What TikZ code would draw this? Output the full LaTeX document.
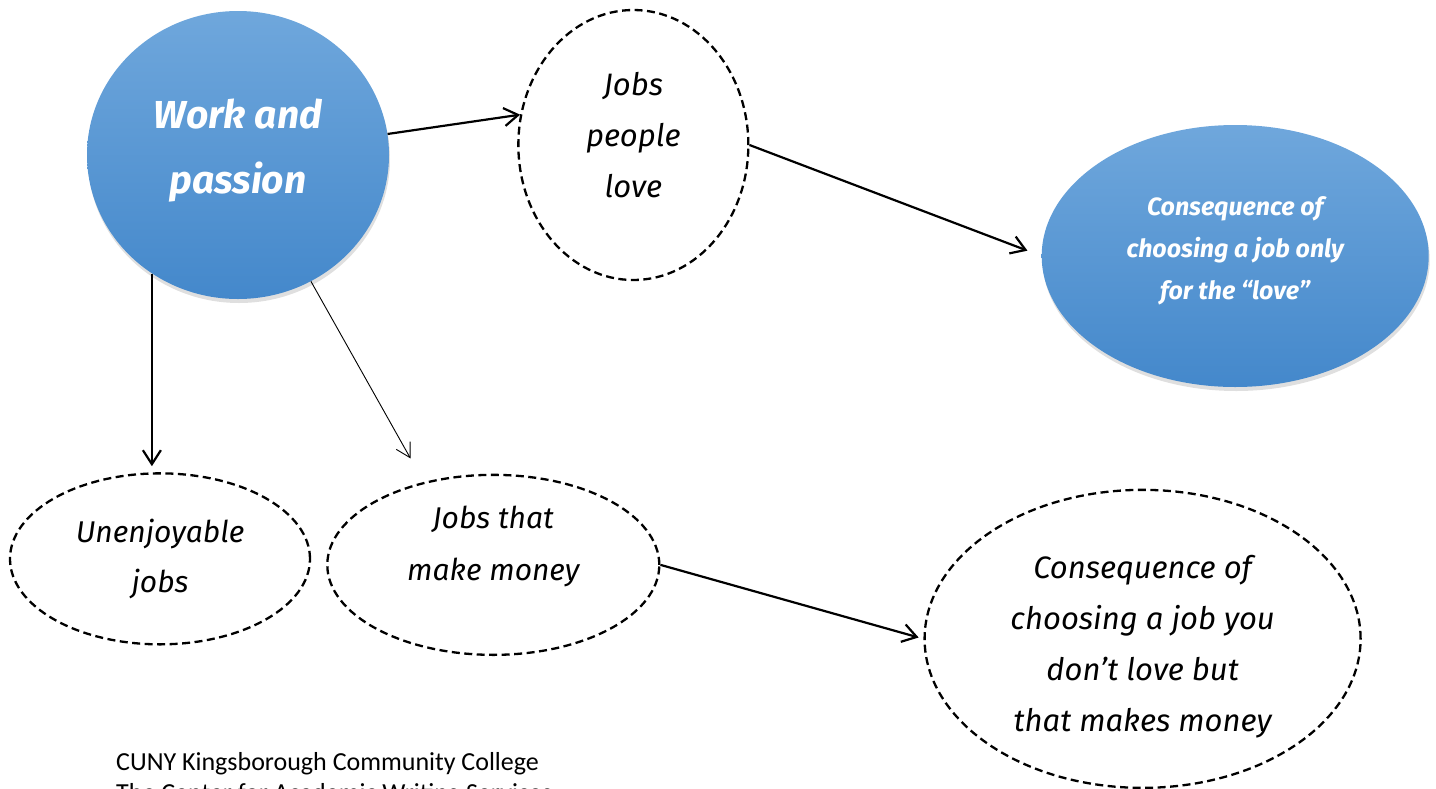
\documentclass[tikz,border=0pt]{standalone}
\usepackage{fontspec}
\setmainfont{Fira Sans}
\newfontfamily\creditfont{Carlito}
\usepackage{xcolor}
\usetikzlibrary{positioning,shapes,shadows,arrows.meta}

\definecolor{balltop}{HTML}{6FA7DC}
\definecolor{ballbot}{HTML}{4488CB}

% invisible struts to nudge a node's text up or down
\newcommand{\upstrut}[1]{\rule[-#1]{0pt}{#1}}
\newcommand{\downstrut}[1]{\rule{0pt}{#1}}

\begin{document}
\begin{tikzpicture}[x=1pt, y=1pt,
  blueball/.style={ellipse, inner sep=0pt, align=center, text=white, top color=balltop, bottom color=ballbot,
    drop shadow={shadow xshift=1pt, shadow yshift=-4pt, opacity=0.25}},
  dashball/.style={ellipse, draw, dash pattern=on 8pt off 4.5pt, line width=2.3pt, inner sep=0pt, align=center},
  link/.style={-{Straight Barb[length=14pt,width=18pt]}, line width=2.2pt},
  thinlink/.style={-{Straight Barb[length=14pt,width=16pt]}, line width=0.9pt}]
  \useasboundingbox (0,0) rectangle (1436,-788);

  \node[blueball, minimum width=302pt, minimum height=288pt, font=\fontsize{39}{65}\selectfont\bfseries\itshape] (wp) at (238,-155) {Work and\\passion\upstrut{18pt}};
  \node[dashball, minimum width=230pt, minimum height=270pt, font=\fontsize{31}{51}\selectfont\itshape, right=128pt of wp, yshift=10pt] (love) {Jobs\\people\\love\upstrut{20pt}};
  \node[blueball, minimum width=387pt, minimum height=262pt, font=\fontsize{25}{42}\selectfont\bfseries\itshape, right=292pt of love, yshift=-111pt] (cons1) {Consequence of\\choosing a job only\\for the ``love''\upstrut{16pt}};
  \node[dashball, minimum width=300pt, minimum height=171pt, font=\fontsize{30}{50}\selectfont\itshape, below=173pt of wp, xshift=-78pt] (unenj) {Unenjoyable\\jobs};
  \node[dashball, minimum width=332pt, minimum height=180pt, font=\fontsize{30}{52}\selectfont\itshape, right=15pt of unenj, yshift=-6pt] (money) {Jobs that\\make money\upstrut{44pt}};
  \node[dashball, minimum width=436pt, minimum height=298pt, font=\fontsize{31}{51}\selectfont\itshape, right=263pt of money, yshift=-74pt] (cons2) {\downstrut{39pt}Consequence of\\choosing a job you\\don't love but\\that makes money};
  \node[inner sep=0pt, anchor=north west, align=left, font=\creditfont\fontsize{26}{31}\selectfont] (credit) at (116,-752) {CUNY Kingsborough Community College\\The Center for Academic Writing Services};

  \draw[link] (wp.8) -- (love.165);
  \draw[link, shorten >=15pt] (love.east) -- (cons1.west);
  \draw[link, shorten >=6pt] (wp.234) -- (wp.234 |- unenj.north);
  \draw[thinlink, shorten >=27pt] (wp.-60) -- (money.130);
  \draw[link, shorten >=5pt] (money.east) -- (cons2.west);
\end{tikzpicture}
\end{document}
